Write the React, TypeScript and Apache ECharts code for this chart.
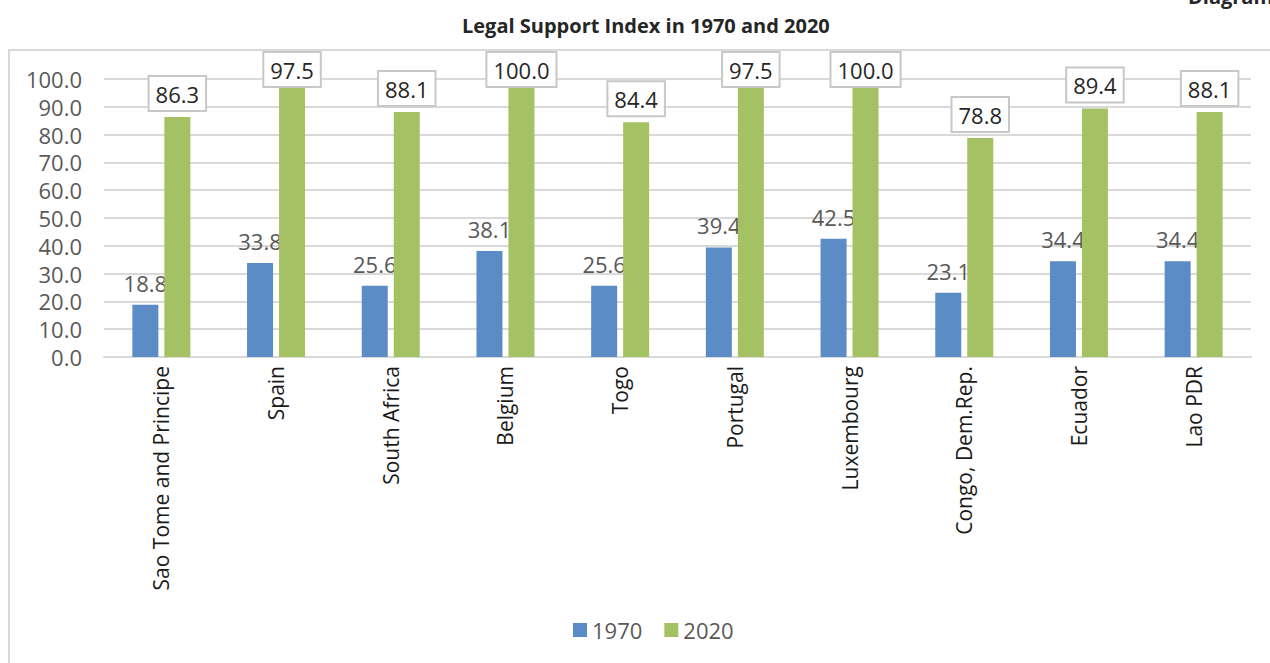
import React, { useEffect, useRef } from "react";
import * as echarts from "echarts";

const categories = [
  "Sao Tome and Principe",
  "Spain",
  "South Africa",
  "Belgium",
  "Togo",
  "Portugal",
  "Luxembourg",
  "Congo, Dem.Rep.",
  "Ecuador",
  "Lao PDR",
];
const values1970 = [18.8, 33.8, 25.6, 38.1, 25.6, 39.4, 42.5, 23.1, 34.4, 34.4];
const values2020 = [86.3, 97.5, 88.1, 100.0, 84.4, 97.5, 100.0, 78.8, 89.4, 88.1];
const seriesNames = ["1970", "2020"];
const titleText = "Legal Support Index in 1970 and 2020";

const FONT = "'Open Sans', 'Noto Sans', sans-serif";

export default function App() {
  const ref = useRef<HTMLDivElement>(null);
  useEffect(() => {
    if (!ref.current) return;
    const chart = echarts.init(ref.current, null, { renderer: "svg" });
    const option = {
      animation: false,
      backgroundColor: "#ffffff",
      textStyle: { fontFamily: FONT },
      title: {
        text: titleText,
        left: 457,
        top: 10,
        textStyle: {
          fontFamily: "'Open Sans', sans-serif",
          fontWeight: "bold",
          fontSize: 20,
          color: "#262626",
        },
      },
      graphic: [
        {
          type: "rect",
          shape: { x: 9, y: 50, width: 1300, height: 700 },
          style: { fill: "none", stroke: "#d9d9d9", lineWidth: 2 },
          silent: true,
          z: -1,
        },
        {
          type: "text",
          x: 1188,
          y: -14,
          style: {
            text: "Diagram",
            fontFamily: "'Open Sans', sans-serif",
            fontWeight: "bold",
            fontSize: 20,
            fill: "#262626",
          },
        },
      ],
      legend: {
        data: seriesNames,
        top: 614,
        left: 568,
        icon: "rect",
        itemWidth: 14,
        itemHeight: 14,
        itemGap: 22,
        textStyle: { fontSize: 22, color: "#595959", fontFamily: FONT },
      },
      grid: { left: 104, right: 19, top: 79, bottom: 306, containLabel: false },
      xAxis: {
        type: "category",
        data: categories,
        axisTick: { show: false },
        axisLine: { lineStyle: { color: "#d9d9d9", width: 2 } },
        axisLabel: {
          rotate: 90,
          margin: 9,
          interval: 0,
          fontSize: 21,
          color: "#1a1a1a",
          fontFamily: FONT,
        },
      },
      yAxis: {
        type: "value",
        min: 0,
        max: 100,
        interval: 10,
        axisLine: { show: false },
        axisTick: { show: false },
        splitLine: { lineStyle: { color: "#d9d9d9", width: 2 } },
        axisLabel: {
          margin: 22,
          fontSize: 22,
          color: "#595959",
          fontFamily: FONT,
          formatter: (v: number) => v.toFixed(1),
        },
      },
      series: [
        {
          name: seriesNames[0],
          type: "bar",
          data: values1970,
          barWidth: 26,
          barGap: "23%",
          z: 2,
          itemStyle: { color: "#5b8cc5" },
          label: {
            show: true,
            position: "top",
            distance: 11,
            fontSize: 22,
            color: "#595959",
            fontFamily: FONT,
            formatter: (p: any) => p.value.toFixed(1),
          },
        },
        {
          name: seriesNames[1],
          type: "bar",
          data: values2020,
          barWidth: 26,
          z: 3,
          itemStyle: { color: "#a4c264" },
          label: {
            show: true,
            position: "top",
            distance: 7,
            fontSize: 22,
            color: "#262626",
            fontFamily: FONT,
            backgroundColor: "#ffffff",
            borderColor: "#c8c8c8",
            borderWidth: 2,
            padding: [6, 6, 5, 6],
            formatter: (p: any) => p.value.toFixed(1),
          },
          labelLayout: (p: any) => {
            const r = p.labelRect;
            if (r && r.y < 51) return { dy: 51 - r.y };
            return {};
          },
        },
      ],
    };
    chart.setOption(option as any);
    return () => chart.dispose();
  }, []);
  return (
    <div
      ref={ref}
      style={{ position: "fixed", left: 0, top: 0, width: 1270, height: 663 }}
    />
  );
}
